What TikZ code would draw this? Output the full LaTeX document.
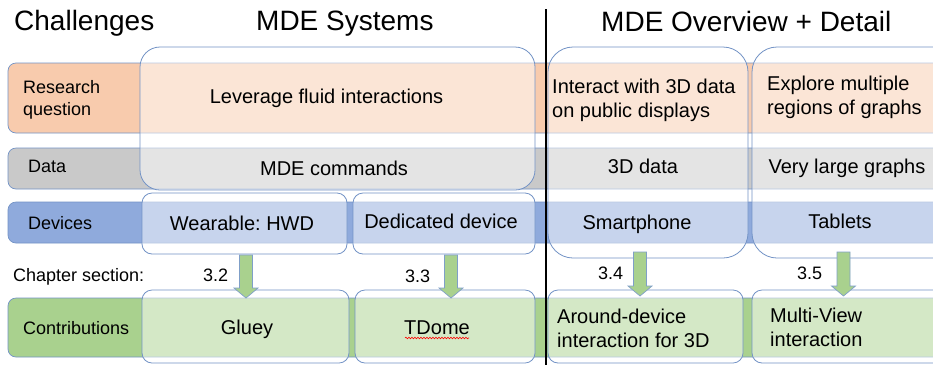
\documentclass[tikz,border=0pt]{standalone}
\usepackage{fontspec}
\setmainfont{Liberation Sans}
\usetikzlibrary{decorations.pathmorphing}
\frenchspacing
\definecolor{rqD}{HTML}{F8CBAD}
\definecolor{dtD}{HTML}{C9C9C9}
\definecolor{dvD}{HTML}{8FAADC}
\definecolor{ctD}{HTML}{A9D18E}
\definecolor{edge}{HTML}{7393C6}
\definecolor{arrowedge}{HTML}{7F9FC8}
\newcommand\grarrow[3]{\draw[garrow] (#1-6.5,#2) -- (#1+6.5,#2) -- (#1+6.5,#3-10) -- (#1+12,#3-10) -- (#1,#3) -- (#1-12,#3-10) -- (#1-6.5,#3-10) -- cycle;}
\tikzset{
 band/.style={draw=edge, line width=0.7pt, rounded corners=8pt},
 ovbox/.style={draw=edge, line width=0.8pt, fill=white, fill opacity=0.5, text opacity=1, inner sep=0pt, rectangle},
 lbl/.style={font=\fontsize{18}{22}\selectfont, inner sep=0pt, anchor=base west, align=left},
 body/.style={font=\fontsize{20}{24}\selectfont, inner sep=0pt, anchor=base},
 bodyl/.style={font=\fontsize{20}{24}\selectfont, inner sep=0pt, anchor=north west, align=left},
 head/.style={font=\fontsize{28}{32}\selectfont, inner sep=0pt, anchor=base west},
 garrow/.style={fill=ctD, draw=arrowedge, line width=0.7pt, line join=miter},
}
\begin{document}
\begin{tikzpicture}[x=1pt, y=-1pt]
\useasboundingbox (0,0) rectangle (933,365);
\clip (0,0) rectangle (933,365);
\fill[white] (0,0) rectangle (933,365);
% bands
\draw[band, fill=rqD] (8,63) rectangle (945,133);
\draw[band, fill=dtD] (8,148) rectangle (945,189);
\draw[band, fill=dvD] (8,202) rectangle (945,243);
\draw[band, fill=ctD] (8,298) rectangle (945,357);
% overlay boxes
\node[ovbox, rounded corners=20pt, minimum width=395pt, minimum height=143pt] (sys) at (337.5,118.5) {};
\node[ovbox, rounded corners=25pt, minimum width=200pt, minimum height=211pt] (ov3) at (648,152.5) {};
\node[ovbox, rounded corners=25pt, minimum width=208pt, minimum height=211pt] (ov4) at (856,152.5) {};
\node[ovbox, rounded corners=10pt, minimum width=205pt, minimum height=61pt] (wear) at (244.5,223.5) {};
\node[ovbox, rounded corners=10pt, minimum width=182pt, minimum height=61pt] (ded) at (444,223.5) {};
\node[ovbox, rounded corners=10pt, minimum width=207pt, minimum height=73pt] (gluey) at (245.5,326.5) {};
\node[ovbox, rounded corners=10pt, minimum width=180pt, minimum height=73pt] (tdome) at (445,326.5) {};
\node[ovbox, rounded corners=10pt, minimum width=195pt, minimum height=73pt] (around) at (645.5,326.5) {};
\node[ovbox, rounded corners=10pt, minimum width=208pt, minimum height=73pt] (multi) at (856,326.5) {};
% arrows
\grarrow{246}{255}{298}
\grarrow{451}{255}{298}
\grarrow{640}{252}{296}
\grarrow{843.5}{252}{296}
% headings
\node[head] (h1) at (14,30) {Challenges};
\node[head] (h2) at (256,30) {MDE Systems};
\node[head] (h3) at (601,31) {MDE Overview + Detail};
% row labels
\node[lbl, anchor=north west] (lrq) at (23,80) {Research\\question};
\node[lbl] (ldt) at (28,172) {Data};
\node[lbl] (ldv) at (28,229) {Devices};
\node[lbl] (lcs) at (13,281) {Chapter section:};
\node[lbl] (lct) at (23,334) {Contributions};
% cell texts
\node[body] (t1) at (326.5,103) {Leverage fluid interactions};
\node[body] (t2) at (334,175) {MDE commands};
\node[bodyl] (t3) at (552,78.5) {Interact with 3D data\\on public displays};
\node[bodyl] (t4) at (767,75.5) {Explore multiple\\regions of graphs};
\node[body] (t5) at (643,173) {3D data};
\node[body] (t6) at (847,173) {Very large graphs};
\node[body] (t7) at (242,230) {Wearable: HWD};
\node[body] (t8) at (441,228) {Dedicated device};
\node[body] (t9) at (637,229) {Smartphone};
\node[body] (t10) at (840,228) {Tablets};
\node[body] (t11) at (247,334) {Gluey};
\node[body] (t12) at (437,334) {TDome};
\node[bodyl] (t13) at (557,308.5) {Around-device\\interaction for 3D};
\node[bodyl] (t14) at (770,307.5) {Multi-View\\interaction};
% section numbers
\node[lbl] (n1) at (203,281) {3.2};
\node[lbl] (n2) at (405,282) {3.3};
\node[lbl] (n3) at (598,279) {3.4};
\node[lbl] (n4) at (797,279) {3.5};
% spell-check squiggle
\draw[red, line width=0.6pt, decorate, decoration={snake, amplitude=0.8pt, segment length=3pt}] ([xshift=-32pt, yshift=-4pt]t12.base) -- ([xshift=32pt, yshift=-4pt]t12.base);
% divider
\coordinate (dtop) at (546,9);
\coordinate (dbot) at (546,365);
\draw[black, line width=2pt] (dtop) -- (dbot);
\end{tikzpicture}
\end{document}
